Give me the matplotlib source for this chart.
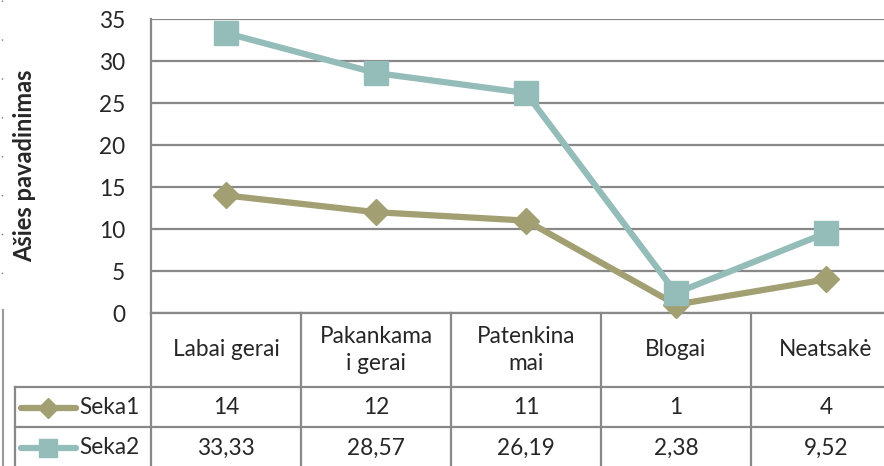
import matplotlib.pyplot as plt
from matplotlib.lines import Line2D

plt.rcParams['font.family'] = ['Lato', 'DejaVu Sans']

categories = ["Labai gerai", "Pakankama\ni gerai", "Patenkina\nmai", "Blogai", "Neatsakė"]
seka1 = [14, 12, 11, 1, 4]
seka2 = [33.33, 28.57, 26.19, 2.38, 9.52]
seka1_labels = ["14", "12", "11", "1", "4"]
seka2_labels = ["33,33", "28,57", "26,19", "2,38", "9,52"]
series_names = ["Seka1", "Seka2"]
yticks = [0, 5, 10, 15, 20, 25, 30, 35]

c1 = '#A29F72'
c2 = '#94BCB9'
grid_c = '#888888'
txt_c = '#262626'
fs = 16.3

W, H = 884, 466
fig = plt.figure(figsize=(W / 100, H / 100), dpi=100)

# plot area: left edge 151px, 0 at 313px, 35 at 19px, one category = 150px
ax = fig.add_axes([151 / W, (H - 313) / H, 750 / W, 294 / H])
x = list(range(len(categories)))
ax.set_xlim(-0.5, 4.5)
ax.set_ylim(0, 35)
ax.set_yticks(yticks)
ax.set_xticks([])
ax.yaxis.grid(True, color=grid_c, lw=1.6)
ax.set_axisbelow(True)
ax.tick_params(axis='y', length=0, pad=18.5, labelsize=fs, labelcolor=txt_c)
for s in ['top', 'right']:
    ax.spines[s].set_visible(False)
for s in ['left', 'bottom']:
    ax.spines[s].set_color(grid_c)
    ax.spines[s].set_linewidth(1.6)

ax.plot(x, seka1, color=c1, lw=4.5, marker='D', ms=13, mec=c1,
        solid_joinstyle='round', clip_on=False, zorder=3)
ax.plot(x, seka2, color=c2, lw=4.5, marker='s', ms=17.5, mec=c2,
        solid_joinstyle='round', clip_on=False, zorder=4)

fig.text(25 / W, 1 - 166 / H, "Ašies pavadinimas", rotation=90, fontsize=17,
         fontweight='bold', color=txt_c, ha='center', va='center')

# data table under the plot (y in pixels below the x axis)
tb = fig.add_axes([151 / W, 0, 750 / W, (H - 313) / H])
tb.set_xlim(-0.5, 4.5)
tb.set_ylim(153, 0)
tb.axis('off')

left_edge = -1.407
for b in [-0.5, 0.5, 1.5, 2.5, 3.5]:
    tb.plot([b, b], [0, 153], color=grid_c, lw=1.6, clip_on=False)
tb.plot([left_edge, left_edge], [74, 153], color=grid_c, lw=1.6, clip_on=False)
for r in [74, 114]:
    tb.plot([left_edge, 4.6], [r, r], color=grid_c, lw=1.6, clip_on=False)

for i, cat in enumerate(categories):
    tb.text(i, 37, cat, ha='center', va='center', fontsize=fs, color=txt_c,
            linespacing=1.3)
    tb.text(i, 95, seka1_labels[i], ha='center', va='center', fontsize=fs, color=txt_c)
    tb.text(i, 135, seka2_labels[i], ha='center', va='center', fontsize=fs, color=txt_c)

for row_y, name, col, mk, ms in [(95, series_names[0], c1, 'D', 10),
                                 (135, series_names[1], c2, 's', 13)]:
    tb.plot([-1.37, -1.0], [row_y, row_y], color=col, lw=4.5,
            solid_capstyle='round', clip_on=False)
    tb.plot([-1.187], [row_y], marker=mk, ms=ms, color=col, mec=col, clip_on=False)
    tb.text(-0.975, row_y, name, ha='left', va='center', fontsize=fs, color=txt_c)

# slide decorations at the far left
fig.add_artist(Line2D([1.5 / W, 1.5 / W], [1, 1 - 280 / H], color='#777777',
                      lw=1, linestyle=(0, (1, 27))))
fig.add_artist(Line2D([2.5 / W, 2.5 / W], [1 - 310 / H, 0], color='#999999', lw=1.5))

fig.savefig('out.png', dpi=100)
